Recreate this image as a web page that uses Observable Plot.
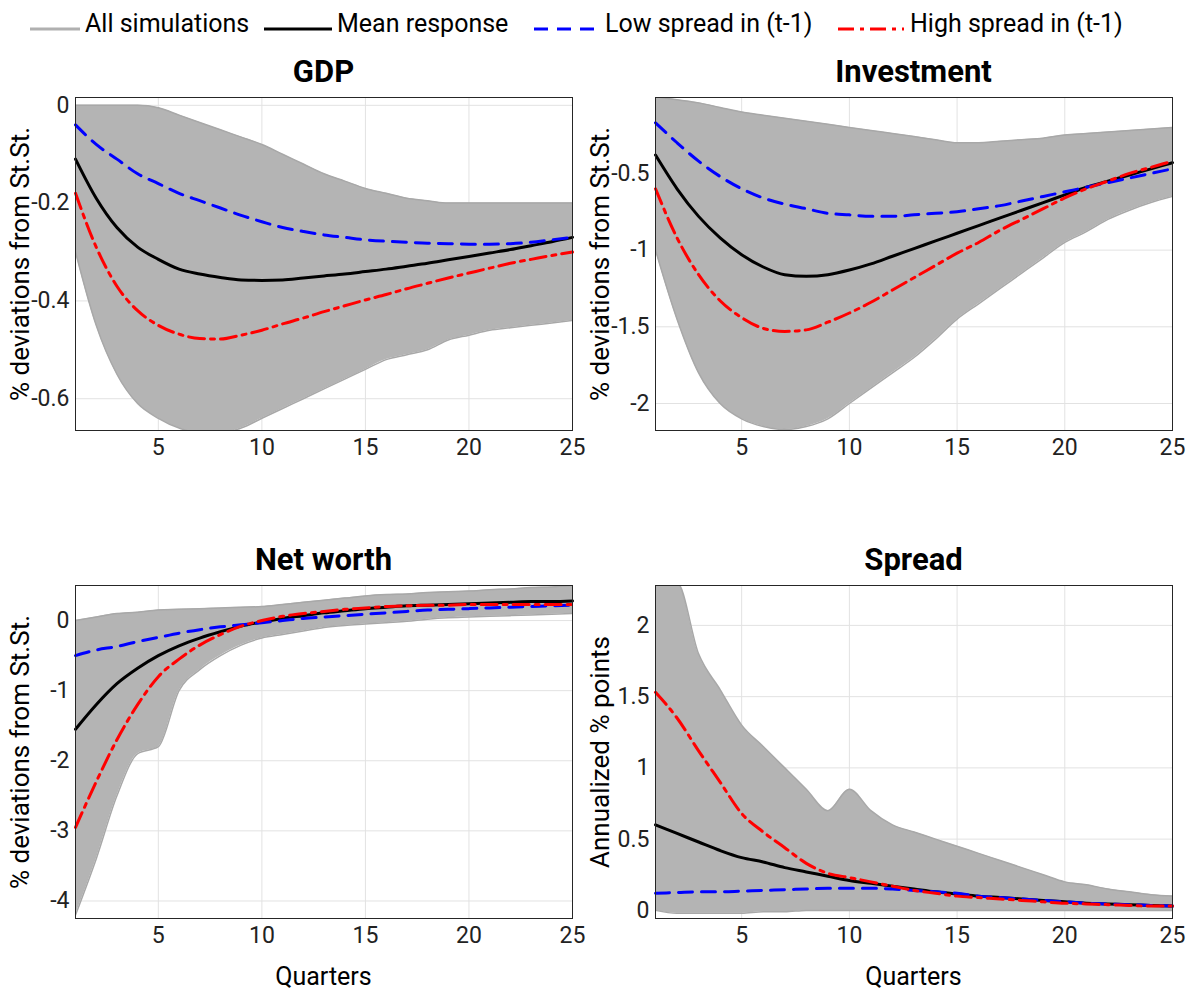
<!DOCTYPE html>
<html><head><meta charset="utf-8">
<script src="https://cdn.jsdelivr.net/npm/d3@7"></script>
<script src="https://cdn.jsdelivr.net/npm/@observablehq/plot@0.6"></script>
<style>
body{margin:0;background:#fff;font-family:Roboto,Arial,sans-serif}
#wrap{position:relative;width:1192px;height:999px}
.abs{position:absolute}
.ttl{font-weight:bold;font-size:31px;text-align:center}
.lg{font-size:25px;white-space:nowrap}
.yl{font-size:26px;white-space:nowrap;transform:translate(-50%,-50%) rotate(-90deg)}
</style></head><body><div id="wrap"></div>
<script>
const quarters = d3.range(1, 26)

// GDP
const gdpMean = [-0.11,-0.19,-0.25,-0.29,-0.315,-0.335,-0.345,-0.352,-0.357,-0.358,-0.357,-0.353,-0.349,-0.345,-0.34,-0.335,-0.329,-0.323,-0.316,-0.309,-0.302,-0.295,-0.287,-0.279,-0.27]
const gdpLow = [-0.04,-0.08,-0.11,-0.14,-0.16,-0.18,-0.195,-0.21,-0.225,-0.238,-0.25,-0.258,-0.265,-0.27,-0.275,-0.278,-0.28,-0.282,-0.283,-0.284,-0.284,-0.283,-0.28,-0.275,-0.27]
const gdpHigh = [-0.18,-0.29,-0.37,-0.42,-0.45,-0.468,-0.477,-0.478,-0.47,-0.46,-0.447,-0.435,-0.422,-0.41,-0.398,-0.387,-0.375,-0.364,-0.353,-0.343,-0.333,-0.323,-0.315,-0.307,-0.3]
const gdpSimTop = [0,0,0,0,-0.005,-0.02,-0.035,-0.05,-0.065,-0.08,-0.1,-0.12,-0.14,-0.155,-0.17,-0.18,-0.19,-0.195,-0.2,-0.2,-0.2,-0.2,-0.2,-0.2,-0.2]
const gdpSimBot = [-0.3,-0.45,-0.55,-0.61,-0.64,-0.66,-0.67,-0.67,-0.66,-0.64,-0.62,-0.6,-0.58,-0.56,-0.54,-0.52,-0.51,-0.5,-0.48,-0.47,-0.46,-0.455,-0.45,-0.445,-0.44]

// Investment
const invMean = [-0.38,-0.6,-0.78,-0.92,-1.03,-1.11,-1.16,-1.17,-1.16,-1.13,-1.09,-1.04,-0.99,-0.94,-0.89,-0.84,-0.79,-0.74,-0.69,-0.64,-0.59,-0.55,-0.51,-0.47,-0.43]
const invLow = [-0.17,-0.3,-0.42,-0.52,-0.6,-0.66,-0.7,-0.73,-0.76,-0.77,-0.78,-0.78,-0.77,-0.76,-0.75,-0.73,-0.71,-0.68,-0.65,-0.62,-0.59,-0.56,-0.53,-0.5,-0.47]
const invHigh = [-0.6,-0.92,-1.16,-1.33,-1.44,-1.51,-1.53,-1.52,-1.47,-1.41,-1.34,-1.26,-1.18,-1.1,-1.02,-0.95,-0.87,-0.8,-0.73,-0.66,-0.6,-0.55,-0.5,-0.46,-0.42]
const invSimTop = [0,-0.02,-0.04,-0.07,-0.1,-0.12,-0.14,-0.16,-0.18,-0.2,-0.22,-0.24,-0.26,-0.28,-0.3,-0.3,-0.29,-0.28,-0.27,-0.25,-0.24,-0.23,-0.22,-0.21,-0.2]
const invSimBot = [-1.0,-1.45,-1.8,-2.0,-2.1,-2.15,-2.17,-2.15,-2.1,-2.0,-1.9,-1.8,-1.7,-1.58,-1.45,-1.35,-1.25,-1.15,-1.05,-0.95,-0.88,-0.8,-0.74,-0.69,-0.65]

// Net worth
const nwMean = [-1.55,-1.2,-0.9,-0.68,-0.5,-0.36,-0.25,-0.16,-0.08,-0.02,0.03,0.07,0.11,0.14,0.17,0.19,0.21,0.22,0.23,0.24,0.25,0.26,0.27,0.27,0.28]
const nwLow = [-0.5,-0.42,-0.37,-0.3,-0.24,-0.18,-0.13,-0.09,-0.06,-0.03,0,0.03,0.05,0.07,0.09,0.11,0.13,0.15,0.16,0.17,0.18,0.19,0.2,0.21,0.22]
const nwHigh = [-2.95,-2.3,-1.7,-1.2,-0.8,-0.55,-0.35,-0.2,-0.08,0,0.06,0.1,0.13,0.16,0.18,0.2,0.21,0.22,0.22,0.23,0.23,0.23,0.23,0.23,0.23]
const nwSimTop = [0,0.05,0.1,0.12,0.15,0.16,0.17,0.18,0.19,0.2,0.23,0.26,0.29,0.32,0.35,0.37,0.38,0.4,0.41,0.42,0.44,0.45,0.47,0.48,0.5]
const nwSimBot = [-4.2,-3.4,-2.5,-1.9,-1.8,-1.0,-0.7,-0.5,-0.35,-0.25,-0.2,-0.15,-0.1,-0.07,-0.05,-0.03,-0.01,0.02,0.04,0.05,0.06,0.07,0.08,0.09,0.1]

// Spread
const spMean = [0.6,0.54,0.48,0.42,0.37,0.34,0.3,0.27,0.24,0.21,0.19,0.17,0.15,0.13,0.115,0.1,0.09,0.08,0.07,0.06,0.05,0.045,0.04,0.035,0.03]
const spLow = [0.12,0.125,0.13,0.13,0.135,0.14,0.145,0.15,0.155,0.155,0.155,0.15,0.14,0.13,0.12,0.1,0.09,0.08,0.07,0.06,0.05,0.045,0.04,0.035,0.03]
const spHigh = [1.53,1.35,1.12,0.9,0.68,0.55,0.44,0.33,0.26,0.23,0.2,0.17,0.14,0.12,0.1,0.09,0.08,0.07,0.06,0.05,0.045,0.04,0.035,0.03,0.03]
const spSimTop = [2.3,2.3,1.8,1.55,1.3,1.15,1.0,0.85,0.7,0.85,0.7,0.6,0.55,0.5,0.45,0.4,0.35,0.3,0.25,0.2,0.18,0.15,0.13,0.11,0.1]
const spSimBot = [0,-0.02,-0.02,-0.02,-0.02,-0.01,-0.01,0,0,0,0,0,0,0,0,0,0,0,0,0,0,0,0,0,0]

const wrap = document.getElementById('wrap')
function add(html, style, cls) {
  const d = document.createElement('div')
  d.className = 'abs ' + (cls || '')
  d.style.cssText = style
  d.innerHTML = html
  wrap.appendChild(d)
  return d
}

// legend
const sw = (w, stroke, dash) => `<svg width="${w}" height="10"><line x1="0" y1="5" x2="${w}" y2="5" stroke="${stroke}" stroke-width="3" ${dash ? `stroke-dasharray="${dash}"` : ''}/></svg>`
add(sw(50, '#b0b0b0'), 'left:30px;top:19px')
add('All simulations', 'left:85px;top:9px', 'lg')
add(sw(68, '#000'), 'left:264px;top:19px')
add('Mean response', 'left:337px;top:9px', 'lg')
add(sw(66, '#0000ff', '14,9'), 'left:534px;top:19px')
add('Low spread in (t-1)', 'left:605px;top:9px', 'lg')
add(sw(66, '#ff0000', '16,6,4,6'), 'left:838px;top:19px')
add('High spread in (t-1)', 'left:910px;top:9px', 'lg')

function panel({title, px, py, pw, mean, low, high, top, bot, domain, ticks, ylabel}) {
  const mL = 75, mT = 10, mB = 40, mR = 15, ph = 333
  const rows = quarters.map((q, i) => ({q, mean: mean[i], low: low[i], high: high[i], top: top[i], bot: bot[i]}))
  const chart = Plot.plot({
    width: mL + pw + mR, height: mT + ph + mB,
    marginLeft: mL, marginTop: mT, marginBottom: mB, marginRight: mR,
    style: {fontSize: '23px', fontFamily: 'Roboto, Arial, sans-serif', color: '#222'},
    x: {domain: [1, 25], ticks: [5, 10, 15, 20, 25], tickSize: 0, tickPadding: 8, label: null},
    y: {domain, ticks, tickSize: 0, tickPadding: 6, tickFormat: d => String(d), label: null},
    marks: [
      Plot.gridX([5, 10, 15, 20], {stroke: '#e2e2e2', strokeOpacity: 1}),
      Plot.gridY(ticks, {stroke: '#e2e2e2', strokeOpacity: 1}),
      Plot.areaY(rows, {x: 'q', y1: 'bot', y2: 'top', fill: '#b4b4b4', curve: 'monotone-x', clip: true}),
      Plot.line(rows, {x: 'q', y: 'top', stroke: '#a8a8a8', strokeWidth: 1.5, curve: 'monotone-x', clip: true}),
      Plot.line(rows, {x: 'q', y: 'bot', stroke: '#a8a8a8', strokeWidth: 1.5, curve: 'monotone-x', clip: true}),
      Plot.line(rows, {x: 'q', y: 'mean', stroke: '#000', strokeWidth: 3, curve: 'monotone-x'}),
      Plot.line(rows, {x: 'q', y: 'low', stroke: '#0000ff', strokeWidth: 3, strokeDasharray: '14,9', curve: 'monotone-x'}),
      Plot.line(rows, {x: 'q', y: 'high', stroke: '#ff0000', strokeWidth: 3, strokeDasharray: '16,6,4,6', curve: 'monotone-x'}),
      Plot.frame({stroke: '#262626', strokeWidth: 1})
    ]
  })
  const d = add('', `left:${px - mL}px;top:${py - mT}px`)
  d.appendChild(chart)
  add(title, `left:${px}px;width:${pw}px;top:${py - 44}px`, 'ttl')
  add(ylabel, `left:${px - 55}px;top:${py + ph / 2}px`, 'yl')
}

const yl = '% deviations from St.St.'
panel({title: 'GDP', px: 75, py: 97, pw: 497, mean: gdpMean, low: gdpLow, high: gdpHigh, top: gdpSimTop, bot: gdpSimBot,
  domain: [-0.665, 0.016], ticks: [-0.6, -0.4, -0.2, 0], ylabel: yl})
panel({title: 'Investment', px: 655, py: 97, pw: 517, mean: invMean, low: invLow, high: invHigh, top: invSimTop, bot: invSimBot,
  domain: [-2.176, -0.005], ticks: [-2, -1.5, -1, -0.5], ylabel: yl})
panel({title: 'Net worth', px: 75, py: 585, pw: 497, mean: nwMean, low: nwLow, high: nwHigh, top: nwSimTop, bot: nwSimBot,
  domain: [-4.25, 0.5], ticks: [-4, -3, -2, -1, 0], ylabel: yl})
panel({title: 'Spread', px: 655, py: 585, pw: 517, mean: spMean, low: spLow, high: spHigh, top: spSimTop, bot: spSimBot,
  domain: [-0.057, 2.28], ticks: [0, 0.5, 1, 1.5, 2], ylabel: 'Annualized % points'})

add('Quarters', 'left:75px;width:497px;top:962px;text-align:center', 'lg')
add('Quarters', 'left:655px;width:517px;top:962px;text-align:center', 'lg')
</script></body></html>
